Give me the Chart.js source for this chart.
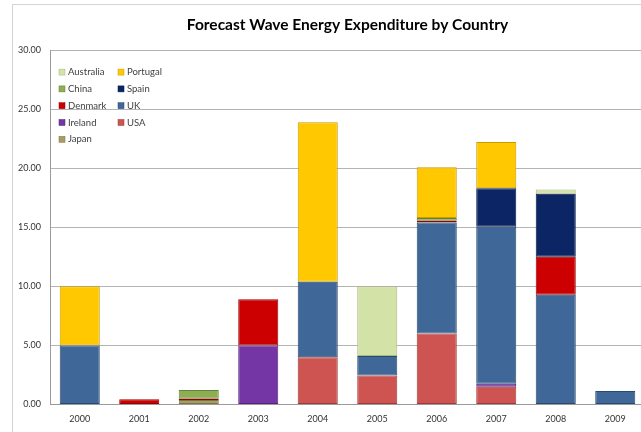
<!DOCTYPE html>
<html>
<head>
<meta charset="utf-8">
<script src="https://cdn.jsdelivr.net/npm/chart.js@4/dist/chart.umd.min.js"></script>
<style>
  html, body { margin: 0; padding: 0; background: #fff; overflow: hidden; }
  #frame { position: absolute; left: 12px; top: 4px; width: 700px; height: 460px; border: 1px solid #d4d4d4; }
  #wave_chart { position: absolute; left: 0; top: 0; }
</style>
</head>
<body>
<div id="frame"></div>
<canvas id="wave_chart" width="694" height="432"></canvas>
<script>
const years = ['2000', '2001', '2002', '2003', '2004', '2005', '2006', '2007', '2008', '2009'];

// series, listed from the bottom of each stack upwards
const japan     = [null, null, 0.38, null, null, null, null, null, null, null];
const usa       = [null, null, null, null, 4.0, 2.45, 6.0, 1.5, null, null];
const ireland   = [null, null, null, 5.0, null, null, null, 0.25, null, null];
const uk        = [5.0, null, null, null, 6.4, 1.65, 9.4, 13.3, 9.3, 1.15];
const denmark   = [null, 0.45, 0.1, 3.9, null, null, 0.15, null, 3.2, null];
const spain     = [null, null, null, null, null, null, null, 3.25, 5.35, null];
const china     = [null, null, 0.75, null, null, null, 0.23, null, null, null];
const portugal  = [5.0, null, null, null, 13.5, null, 4.3, 3.93, null, null];
const australia = [null, null, null, null, null, 5.9, null, null, 0.35, null];

const yTicks = [0, 5, 10, 15, 20, 25, 30];

const series = [
    { label: 'Japan',     data: japan,     color: '#a89c63', edge: '#7d744a' },
    { label: 'USA',       data: usa,       color: '#cd5451', edge: '#9e3b39' },
    { label: 'Ireland',   data: ireland,   color: '#7536a5', edge: '#54247a' },
    { label: 'UK',        data: uk,        color: '#3f6797', edge: '#2b4a70' },
    { label: 'Denmark',   data: denmark,   color: '#cc0000', edge: '#950000' },
    { label: 'Spain',     data: spain,     color: '#0b2565', edge: '#061745' },
    { label: 'China',     data: china,     color: '#8dae52', edge: '#66823a' },
    { label: 'Portugal',  data: portugal,  color: '#ffc800', edge: '#c99c00' },
    { label: 'Australia', data: australia, color: '#d3e2a6', edge: '#a9b985' }
];

// two-column legend inside the plot, top series first
const insideLegend = {
    id: 'insideLegend',
    afterDraw(chart) {
        const c = chart.ctx;
        const area = chart.chartArea;
        const items = chart.data.datasets.slice().reverse();
        c.save();
        c.font = '9.5px Lato';
        c.textBaseline = 'middle';
        items.forEach((ds, i) => {
            const col = i % 2;
            const row = Math.floor(i / 2);
            const x = area.left + 9 + col * 59;
            const y = area.top + 22 + row * 16.8;
            c.fillStyle = ds.backgroundColor;
            c.fillRect(x, y - 3, 6, 6);
            c.strokeStyle = ds.borderColor;
            c.lineWidth = 0.5;
            c.strokeRect(x, y - 3, 6, 6);
            c.fillStyle = '#404040';
            c.fillText(ds.label, x + 9, y);
        });
        c.restore();
    }
};

const chart = new Chart(document.getElementById('wave_chart'), {
    type: 'bar',
    data: {
        labels: years,
        datasets: series.map(s => ({
            label: s.label,
            data: s.data,
            backgroundColor: s.color,
            borderColor: s.edge,
            borderWidth: 1,
            borderSkipped: false,
            barPercentage: 0.673,
            categoryPercentage: 1
        }))
    },
    options: {
        responsive: false,
        animation: false,
        devicePixelRatio: 1,
        layout: { padding: { left: 0, right: 49, top: 0, bottom: 0 } },
        plugins: {
            legend: { display: false },
            tooltip: { enabled: false },
            title: {
                display: true,
                fullSize: false,   // centre over the plot, not the canvas
                text: 'Forecast Wave Energy Expenditure by Country',
                color: '#000',
                font: { family: 'Lato', size: 15.5, weight: 'bold' },
                padding: { top: 16, bottom: 15.5 }
            }
        },
        scales: {
            x: {
                stacked: true,
                grid: { display: false, drawTicks: false },
                border: { color: '#9a9a9a' },
                ticks: { color: '#333', font: { family: 'Lato', size: 9 }, padding: 9 },
                afterFit: scale => { scale.height = 27.5; }
            },
            y: {
                stacked: true,
                min: yTicks[0],
                max: yTicks[yTicks.length - 1],
                afterBuildTicks: scale => { scale.ticks = yTicks.map(v => ({ value: v })); },
                grid: { color: '#b4b4b4', drawTicks: false },
                border: { color: '#9a9a9a' },
                ticks: {
                    color: '#333',
                    font: { family: 'Lato', size: 9 },
                    padding: 9,
                    callback: v => v.toFixed(2)
                },
                afterFit: scale => { scale.width = 50; }
            }
        }
    },
    plugins: [insideLegend]
});
</script>
</body>
</html>
